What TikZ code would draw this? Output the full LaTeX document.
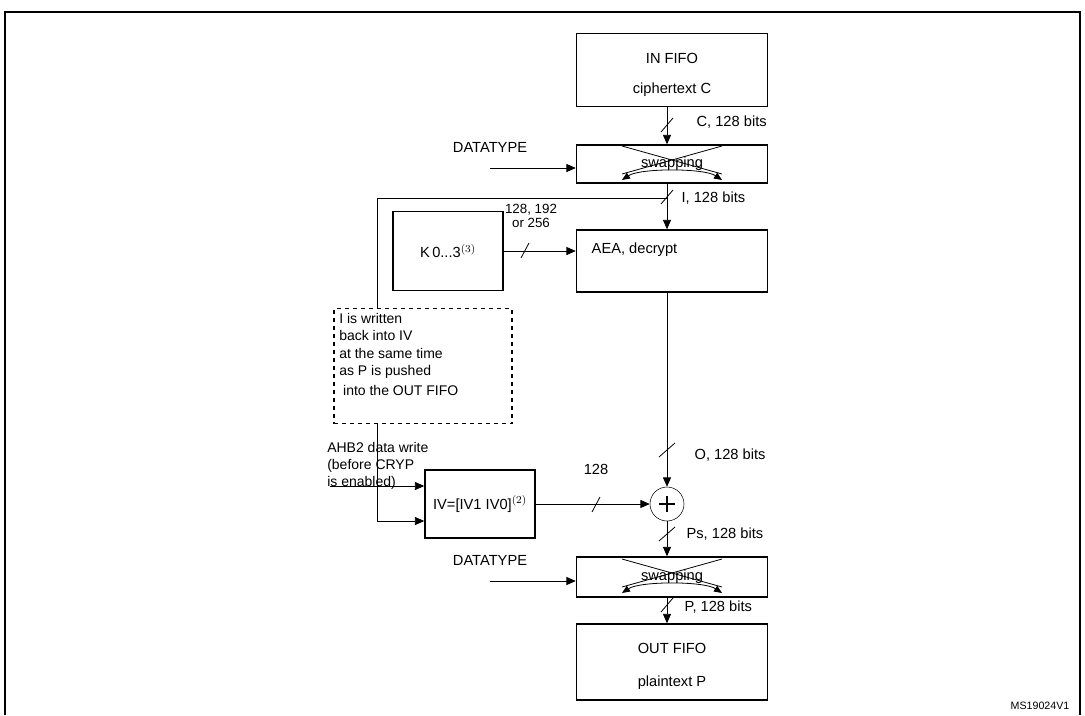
\documentclass[tikz,border=0pt]{standalone}
\usepackage{fontspec}
\setmainfont{Liberation Sans}
\usetikzlibrary{arrows.meta}
\begin{document}
\begin{tikzpicture}[x=0.75pt,y=-0.75pt,
  font=\fontsize{11}{13}\selectfont,
  box/.style={draw,line width=1.1pt,fill=white},
  arr/.style={-{Triangle[length=7pt,width=6pt]},line width=0.6pt},
  ln/.style={line width=0.6pt},
  lbl/.style={inner sep=1pt}]
\useasboundingbox (0,0) rectangle (1085,715);
\coordinate (c) at (667,0);
\draw[line width=0.8pt] (5,715) -- (5,12) -- (1080,12) -- (1080,715);
% boxes
\node[box,minimum width=191*0.75pt,minimum height=73*0.75pt] (in) at (672,70) {};
\node at (672,58) {IN FIFO};
\node at (672,90) {ciphertext C};
\node[box,minimum width=191*0.75pt,minimum height=38*0.75pt] (sw1) at (672,164) {};
\node[box,minimum width=191*0.75pt,minimum height=62*0.75pt] (aea) at (672,261) {};
\node[anchor=west] at (587,250) {AEA, decrypt};
\node[box,minimum width=110*0.75pt,minimum height=79*0.75pt] (k) at (448,251) {K\,0...3$^{(3)}$};
\node[box,minimum width=110*0.75pt,minimum height=68*0.75pt] (iv) at (480,504) {IV=[IV1 IV0]$^{(2)}$};
\node[draw,circle,minimum size=34*0.75pt,inner sep=0pt] (x) at (667,504) {};
\draw[line width=1.2pt] (667,496)--(667,512) (659,504)--(675,504);
\node[box,minimum width=191*0.75pt,minimum height=40*0.75pt] (sw2) at (672,577) {};
\node[box,minimum width=191*0.75pt,minimum height=76*0.75pt] (out) at (672,662) {};
\node at (672,648) {OUT FIFO};
\node at (672,683) {plaintext P};
% swapping internals
\foreach \s/\y in {sw1/164,sw2/577}{
  \node at (672,\y) {swapping};
  \draw[ln] (622,\y-18) -- (722,\y+10) (722,\y-18) -- (622,\y+10);
  \draw[ln,{Triangle[length=6pt,width=5pt]}-{Triangle[length=6pt,width=5pt]}] (622,\y+16) .. controls (640,\y+4) and (704,\y+4) .. (722,\y+16);
  \node[lbl] at (490,\y-17) {DATATYPE};
  \coordinate (d\s) at (490,\y+4);
  \draw[arr] (d\s) -- (\s.west |- d\s);
}
% dashed box
\node[draw,dashed,line width=0.8pt,minimum width=178*0.75pt,minimum height=115*0.75pt] (note) at (423,366) {};
\node[anchor=north west,align=left,inner sep=0pt,font=\fontsize{10.5}{13}\selectfont] at (339,313) {I is written\\back into IV\\at the same time\\as P is pushed\\[2pt]\ into the OUT FIFO};
% connectors
\draw[arr] (in.south -| c) -- (sw1.north -| c);
\draw[ln] (661,132)--(673,118);
\node[lbl,anchor=west] at (695,122) {C, 128 bits};
\draw[arr] (sw1.south -| c) -- (aea.north -| c);
\draw[ln] (661,204)--(673,190);
\node[lbl,anchor=west] at (680,198) {I, 128 bits};
\coordinate (fb1) at (667,198);
\coordinate (fb2) at (377,198);
\draw[ln] (fb1) -- (fb2) -- (fb2 |- note.north);
\coordinate (fb3) at (377,521);
\draw[ln] (fb3 |- note.south) -- (fb3);
\draw[arr] (fb3) -- (iv.west |- fb3);
\coordinate (ahb) at (330,486);
\draw[arr] (ahb) -- (iv.west |- ahb);
\node[anchor=west,align=left,inner sep=0pt,font=\fontsize{10.5}{12.5}\selectfont] at (327,466) {AHB2 data write\\(before CRYP\\is enabled)};
\draw[arr] (k.east) -- (aea.west |- k.east);
\draw[ln] (521,258)--(529,243);
\node[lbl,align=center,font=\fontsize{10}{11}\selectfont] at (531,216) {128, 192\\or 256};
\draw[arr] (aea.south -| c) -- (x.north);
\draw[ln] (659,457)--(675,443);
\node[lbl,anchor=west] at (693,455) {O, 128 bits};
\draw[arr] (iv.east) -- (x.west);
\draw[ln] (592,512)--(600,497);
\node[lbl] at (596,469) {128};
\draw[arr] (x.south) -- (sw2.north -| c);
\draw[ln] (659,541)--(675,527);
\node[lbl,anchor=west] at (685,534) {Ps, 128 bits};
\draw[arr] (sw2.south -| c) -- (out.north -| c);
\draw[ln] (661,612)--(673,598);
\node[lbl,anchor=west] at (683,607) {P, 128 bits};
\node[font=\fontsize{8}{9}\selectfont] at (1040,706) {MS19024V1};
\end{tikzpicture}
\end{document}
